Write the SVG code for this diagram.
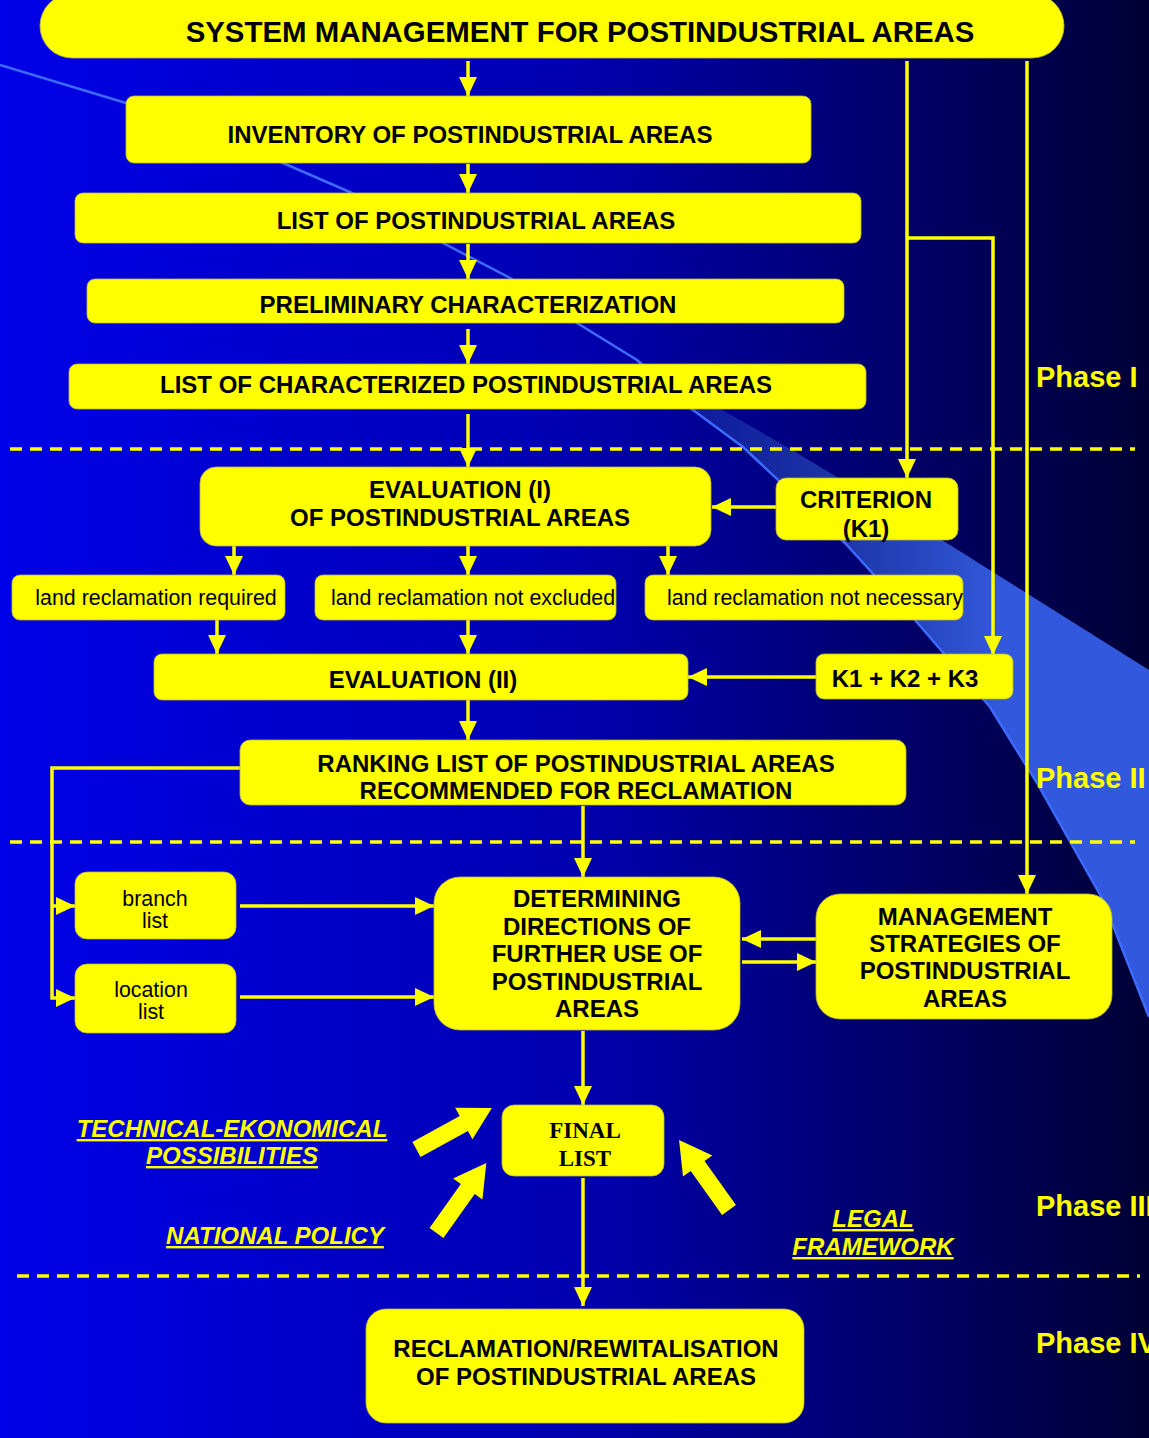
<svg xmlns="http://www.w3.org/2000/svg" xmlns:xlink="http://www.w3.org/1999/xlink" width="1149" height="1438" viewBox="0 0 1149 1438">
<style>
.box{fill:#ffff00;stroke:#b8b840;stroke-width:0.8}
.t{font-family:"Liberation Sans",Arial,sans-serif;font-weight:bold;font-size:24px;fill:#000;text-anchor:middle}
.r{font-family:"Liberation Sans",Arial,sans-serif;font-weight:normal;font-size:21.4px;fill:#000;text-anchor:middle}
.s{font-family:"Liberation Serif","Times New Roman",serif;font-weight:bold;font-size:23px;fill:#000;text-anchor:middle}
.ph{font-family:"Liberation Sans",Arial,sans-serif;font-weight:bold;font-size:29px;fill:#ffff00}
.lbl{font-family:"Liberation Sans",Arial,sans-serif;font-weight:bold;font-style:italic;font-size:24px;fill:#ffff00;text-anchor:middle;text-decoration:underline}
.conn{stroke:#ffff00;stroke-width:3.5;fill:none}
.dash{stroke:#ffff00;stroke-width:3.5;stroke-dasharray:12 8;fill:none}
.fat{fill:#ffff00}
</style>
<defs>
<linearGradient id="bg" x1="0" y1="0" x2="1149" y2="0" gradientUnits="userSpaceOnUse">
<stop offset="0" stop-color="#0000e8"/>
<stop offset="0.5" stop-color="#0000b0"/>
<stop offset="0.78" stop-color="#00006a"/>
<stop offset="1" stop-color="#000035"/>
</linearGradient>
<linearGradient id="band" x1="640" y1="0" x2="1000" y2="0" gradientUnits="userSpaceOnUse">
<stop offset="0" stop-color="#2040a0" stop-opacity="0.3"/>
<stop offset="1" stop-color="#3259dd" stop-opacity="1"/>
</linearGradient>
<marker id="ah" markerUnits="userSpaceOnUse" markerWidth="19" markerHeight="18" refX="19" refY="9" orient="auto">
<path d="M0,0 L19,9 L0,18 Z" fill="#ffff00"/>
</marker>
<path id="fat" d="M0,-8.5 L54,-8.5 L54,-18 L86,0 L54,18 L54,8.5 L0,8.5 Z"/>
</defs>

<rect x="0" y="0" width="1149" height="1438" fill="url(#bg)"/>
<path d="M640,363 L787,447 L950,545 L1149,670 L1149,1017 L1103,900 L1037,783 L990,707 L915,620 L845,543 L743,447 L693,410 L637,360 Z" fill="url(#band)"/>
<path d="M0,65 L126,103 L283,163 L352,193 L443,243 L510,278 L577,323 L637,360 L693,410 L743,447 L845,543 L915,620 L990,707 L1037,783 L1103,900 L1149,1017" fill="none" stroke="#3d6bff" stroke-width="2.5" stroke-linejoin="round"/>

<g id="phase-separators">
<line class="dash" x1="10" y1="449" x2="1135" y2="449"/>
<line class="dash" x1="10" y1="842" x2="1135" y2="842"/>
<line class="dash" x1="17" y1="1276" x2="1140" y2="1276"/>
</g>

<g id="connectors">
<path class="conn" d="M468,61 V96" marker-end="url(#ah)"/>
<path class="conn" d="M468,164 V193" marker-end="url(#ah)"/>
<path class="conn" d="M468,244 V279" marker-end="url(#ah)"/>
<path class="conn" d="M468,329 V364" marker-end="url(#ah)"/>
<path class="conn" d="M468,414 V467" marker-end="url(#ah)"/>
<path class="conn" d="M907,61 V478" marker-end="url(#ah)"/>
<path class="conn" d="M907,238 H993 V655" marker-end="url(#ah)"/>
<path class="conn" d="M1027,61 V894" marker-end="url(#ah)"/>
<path class="conn" d="M776,507 H712" marker-end="url(#ah)"/>
<path class="conn" d="M234,546 V575" marker-end="url(#ah)"/>
<path class="conn" d="M468,546 V575" marker-end="url(#ah)"/>
<path class="conn" d="M668,546 V575" marker-end="url(#ah)"/>
<path class="conn" d="M217,620 V654" marker-end="url(#ah)"/>
<path class="conn" d="M468,620 V654" marker-end="url(#ah)"/>
<path class="conn" d="M816,677 H688" marker-end="url(#ah)"/>
<path class="conn" d="M468,700 V740" marker-end="url(#ah)"/>
<path class="conn" d="M583,806 V877" marker-end="url(#ah)"/>
<path class="conn" d="M240,768 H52 V998 H75" marker-end="url(#ah)"/>
<path class="conn" d="M52,906 H75" marker-end="url(#ah)"/>
<path class="conn" d="M240,906 H434" marker-end="url(#ah)"/>
<path class="conn" d="M240,997 H434" marker-end="url(#ah)"/>
<path class="conn" d="M816,939 H742" marker-end="url(#ah)"/>
<path class="conn" d="M742,962 H816" marker-end="url(#ah)"/>
<path class="conn" d="M583,1031 V1105" marker-end="url(#ah)"/>
<path class="conn" d="M583,1178 V1306" marker-end="url(#ah)"/>
<use href="#fat" class="fat" transform="translate(416.5,1149.5) rotate(-28.8)"/>
<use href="#fat" class="fat" transform="translate(436.5,1233) rotate(-54.6)"/>
<use href="#fat" class="fat" transform="translate(729,1210) rotate(-125.5)"/>
</g>

<g id="n-top"><rect class="box" x="40" y="-6" width="1024" height="64" rx="32"/><text class="t" x="580" y="42" style="font-size:29.4px">SYSTEM MANAGEMENT FOR POSTINDUSTRIAL AREAS</text></g>
<g id="n-inventory"><rect class="box" x="126" y="96" width="685" height="67" rx="8"/><text class="t" x="470" y="143">INVENTORY OF POSTINDUSTRIAL AREAS</text></g>
<g id="n-list"><rect class="box" x="75" y="193" width="786" height="50" rx="8"/><text class="t" x="476" y="229">LIST OF POSTINDUSTRIAL AREAS</text></g>
<g id="n-prelim"><rect class="box" x="87" y="279" width="757" height="44" rx="8"/><text class="t" x="468" y="313">PRELIMINARY CHARACTERIZATION</text></g>
<g id="n-listchar"><rect class="box" x="69" y="364" width="797" height="45" rx="8"/><text class="t" x="466" y="393">LIST OF CHARACTERIZED POSTINDUSTRIAL AREAS</text></g>
<g id="n-eval1"><rect class="box" x="200" y="467" width="511" height="79" rx="16"/><text class="t" x="460" y="498">EVALUATION (I)</text><text class="t" x="460" y="526">OF POSTINDUSTRIAL AREAS</text></g>
<g id="n-criterion"><rect class="box" x="776" y="478" width="182" height="62" rx="10"/><text class="t" x="866" y="508">CRITERION</text><text class="t" x="866" y="537">(K1)</text></g>
<g id="n-required"><rect class="box" x="12" y="575" width="273" height="45" rx="8"/><text class="r" x="156" y="605">land reclamation required</text></g>
<g id="n-notexcluded"><rect class="box" x="315" y="575" width="301" height="45" rx="8"/><text class="r" x="473" y="605">land reclamation not excluded</text></g>
<g id="n-notnecessary"><rect class="box" x="645" y="575" width="318" height="45" rx="8"/><text class="r" x="815" y="605">land reclamation not necessary</text></g>
<g id="n-eval2"><rect class="box" x="154" y="654" width="534" height="46" rx="8"/><text class="t" x="423" y="688">EVALUATION (II)</text></g>
<g id="n-k"><rect class="box" x="816" y="654" width="197" height="45" rx="8"/><text class="t" x="905" y="687">K1 + K2 + K3</text></g>
<g id="n-ranking"><rect class="box" x="240" y="740" width="666" height="65" rx="10"/><text class="t" x="576" y="772">RANKING LIST OF POSTINDUSTRIAL AREAS</text><text class="t" x="576" y="799">RECOMMENDED FOR RECLAMATION</text></g>
<g id="n-branch"><rect class="box" x="75" y="872" width="161" height="67" rx="12"/><text class="r" x="155" y="906">branch</text><text class="r" x="155" y="928">list</text></g>
<g id="n-location"><rect class="box" x="75" y="964" width="161" height="69" rx="12"/><text class="r" x="151" y="997">location</text><text class="r" x="151" y="1019">list</text></g>
<g id="n-determining"><rect class="box" x="434" y="877" width="306" height="153" rx="26"/><text class="t" x="597" y="907">DETERMINING</text><text class="t" x="597" y="935">DIRECTIONS OF</text><text class="t" x="597" y="962">FURTHER USE OF</text><text class="t" x="597" y="990">POSTINDUSTRIAL</text><text class="t" x="597" y="1017">AREAS</text></g>
<g id="n-management"><rect class="box" x="816" y="894" width="296" height="125" rx="24"/><text class="t" x="965" y="925">MANAGEMENT</text><text class="t" x="965" y="952">STRATEGIES OF</text><text class="t" x="965" y="979">POSTINDUSTRIAL</text><text class="t" x="965" y="1007">AREAS</text></g>
<g id="n-final"><rect class="box" x="502" y="1105" width="162" height="71" rx="12"/><text class="s" x="585" y="1138">FINAL</text><text class="s" x="585" y="1166">LIST</text></g>
<g id="n-reclamation"><rect class="box" x="366" y="1309" width="438" height="114" rx="20"/><text class="t" x="586" y="1357">RECLAMATION/REWITALISATION</text><text class="t" x="586" y="1385">OF POSTINDUSTRIAL AREAS</text></g>

<g id="labels">
<text class="lbl" x="232" y="1137">TECHNICAL-EKONOMICAL</text>
<text class="lbl" x="232" y="1164">POSSIBILITIES</text>
<text class="lbl" x="275" y="1244">NATIONAL POLICY</text>
<text class="lbl" x="873" y="1227">LEGAL</text>
<text class="lbl" x="873" y="1255">FRAMEWORK</text>
</g>
<g id="phases">
<text class="ph" x="1036" y="387">Phase I</text>
<text class="ph" x="1036" y="788">Phase II</text>
<text class="ph" x="1036" y="1216">Phase III</text>
<text class="ph" x="1036" y="1353">Phase IV</text>
</g>
</svg>
